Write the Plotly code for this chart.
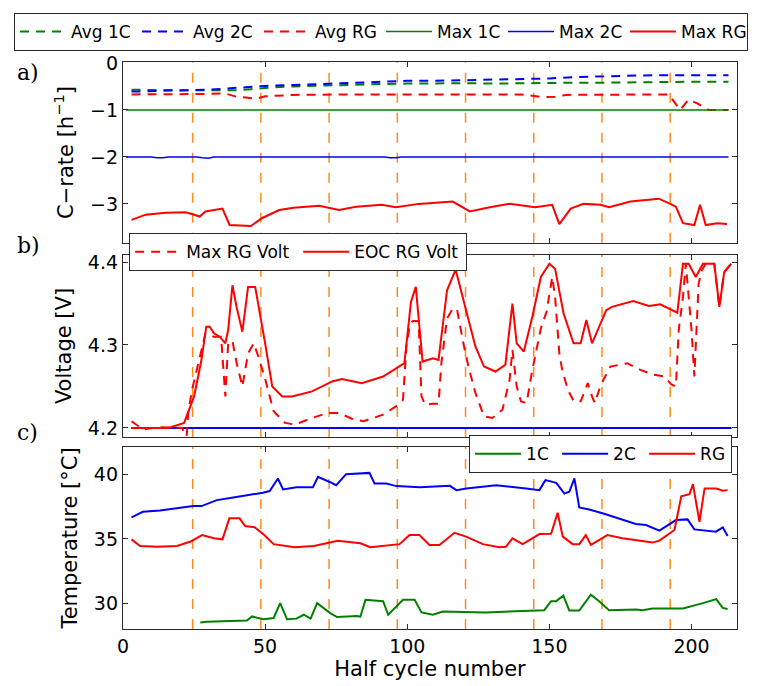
import plotly.graph_objects as go
from plotly.subplots import make_subplots

# ---- half-cycle segment boundaries (orange dashed markers) ----
segment_bounds = [24.5, 48.5, 72.5, 96.5, 120.5, 144.5, 168.5, 192.5]

# ---- a) C-rate ----
avg_1c_x = [3, 10, 20, 30, 40, 45, 50, 55, 60, 70, 80, 90, 100, 110, 120, 130, 140, 150, 160, 170, 180, 190, 200, 210, 213]
avg_1c_y = [-0.57, -0.58, -0.58, -0.58, -0.58, -0.56, -0.53, -0.51, -0.5, -0.48, -0.46, -0.45, -0.44, -0.43, -0.43, -0.44, -0.43, -0.43, -0.42, -0.42, -0.41, -0.41, -0.4, -0.4, -0.4]

avg_2c_x = [3, 10, 20, 30, 40, 50, 60, 70, 80, 90, 100, 110, 120, 130, 140, 150, 160, 170, 180, 190, 200, 210, 213]
avg_2c_y = [-0.61, -0.6, -0.6, -0.57, -0.53, -0.49, -0.47, -0.45, -0.42, -0.4, -0.38, -0.38, -0.37, -0.36, -0.35, -0.33, -0.3, -0.28, -0.27, -0.26, -0.26, -0.26, -0.26]

avg_rg_x = [3, 15, 30, 36, 40, 44, 47, 50, 60, 80, 100, 120, 140, 148, 152, 156, 170, 185, 192, 196, 199, 202, 206, 210, 213]
avg_rg_y = [-0.67, -0.67, -0.66, -0.65, -0.72, -0.74, -0.76, -0.71, -0.68, -0.67, -0.67, -0.67, -0.67, -0.73, -0.72, -0.68, -0.67, -0.66, -0.67, -1.0, -0.78, -0.86, -1.0, -1.0, -1.0]

max_1c_x = [1, 50, 100, 150, 200, 213]
max_1c_y = [-1.0, -1.0, -1.0, -1.0, -1.0, -1.0]

max_2c_x = [1, 10, 12, 14, 16, 26, 28, 30, 32, 92, 94, 96, 98, 213]
max_2c_y = [-2.0, -2.0, -2.02, -2.02, -2.0, -2.0, -2.02, -2.03, -2.0, -2.0, -2.02, -2.02, -2.0, -2.0]

max_rg_x = [3, 8, 15, 22, 24.5, 27, 29, 35, 37.5, 45, 49, 55, 60, 69, 76, 82, 91, 96, 104, 116, 122, 129, 136, 145,
            151, 153.5, 157.5, 162, 168, 171, 178.5, 188.5, 192.5, 194.5, 197, 201, 203, 205, 209, 212.5]
max_rg_y = [-3.34, -3.23, -3.19, -3.18, -3.22, -3.27, -3.16, -3.1, -3.45, -3.47, -3.3, -3.13, -3.08, -3.04, -3.13, -3.06,
            -3.02, -3.07, -3.0, -2.95, -3.16, -3.07, -3.0, -3.07, -3.02, -3.43, -3.1, -3.0, -3.02, -3.07, -2.95, -2.89,
            -3.0, -3.06, -3.41, -3.45, -3.02, -3.45, -3.41, -3.43]

# ---- b) Voltage ----
eoc_rg_x = [3, 10, 16, 21.5, 25, 27.5, 29.3, 30.5, 32, 34, 36, 37, 38.5, 40, 42, 44, 46.5, 50, 52.5, 56, 59.5, 66.5,
            73.6, 77, 84, 91.5, 96.2, 99, 101.3, 103, 105.4, 109, 111, 114, 117, 120.5, 124, 127, 131, 134.5, 137,
            138.5, 141, 144, 147, 150, 152, 155, 158.5, 161, 163, 165, 170, 172, 179.5, 185, 189, 195, 197, 199,
            201.5, 204, 208, 209.8, 211.5, 214]
eoc_rg_y = [4.2, 4.2, 4.2, 4.206, 4.238, 4.28, 4.322, 4.322, 4.314, 4.31, 4.302, 4.318, 4.372, 4.345, 4.316, 4.37,
            4.37, 4.302, 4.25, 4.238, 4.238, 4.244, 4.256, 4.259, 4.254, 4.262, 4.272, 4.278, 4.352, 4.37, 4.28,
            4.284, 4.282, 4.366, 4.391, 4.346, 4.298, 4.274, 4.268, 4.276, 4.35, 4.302, 4.292, 4.334, 4.382, 4.398,
            4.392, 4.338, 4.302, 4.302, 4.33, 4.302, 4.342, 4.346, 4.353, 4.347, 4.349, 4.339, 4.398, 4.398, 4.382,
            4.398, 4.398, 4.346, 4.388, 4.398]

max_rg_volt_x = [3, 7, 12, 18, 21, 22, 23, 24.3, 27.5, 29, 32, 34.5, 36, 37, 38.5, 40, 42, 44, 46, 47.5, 50, 53, 57,
                 60.5, 66.5, 72, 76, 80.5, 84.6, 91.5, 96, 98.5, 99.7, 101, 102, 104, 105, 106.3, 109, 111, 112, 114,
                 116, 117.5, 119.5, 121.5, 124, 127, 130, 133.5, 136, 137, 138.5, 140, 142, 144, 147, 149, 151, 152,
                 153.5, 154.5, 156.5, 158.6, 161, 163.5, 165, 166, 167.5, 169, 171.5, 177.4, 182, 186.8, 190.5, 193,
                 194.5, 195.5, 197, 198, 200, 201, 202.5, 203.6, 205, 208, 209.8, 211.5, 214]
max_rg_volt_y = [4.208, 4.198, 4.201, 4.2, 4.2, 4.17, 4.22, 4.246, 4.294, 4.314, 4.31, 4.31, 4.238, 4.302, 4.305,
                 4.278, 4.25, 4.29, 4.302, 4.287, 4.259, 4.22, 4.206, 4.204, 4.212, 4.218, 4.218, 4.211, 4.208, 4.216,
                 4.226, 4.234, 4.298, 4.326, 4.329, 4.329, 4.238, 4.228, 4.229, 4.229, 4.278, 4.332, 4.344, 4.343,
                 4.306, 4.274, 4.242, 4.214, 4.212, 4.222, 4.258, 4.294, 4.25, 4.232, 4.23, 4.27, 4.32, 4.34, 4.382,
                 4.358, 4.29, 4.27, 4.246, 4.232, 4.232, 4.254, 4.238, 4.23, 4.246, 4.258, 4.274, 4.278, 4.27, 4.264,
                 4.262, 4.252, 4.25, 4.318, 4.358, 4.398, 4.318, 4.262, 4.374, 4.39, 4.398, 4.398, 4.346, 4.388, 4.398]

cv_1c_x = [3, 60, 120, 180, 214]
cv_1c_y = [4.2, 4.2, 4.2, 4.2, 4.2]
cv_2c_x = [3, 60, 120, 180, 214]
cv_2c_y = [4.2, 4.2, 4.2, 4.2, 4.2]

# ---- c) Temperature ----
temp_1c_x = [27.2, 29.5, 43.6, 45.4, 49.5, 53, 55.3, 57.7, 61, 63.6, 66, 68.3, 72.9, 75.3, 82.3, 83.5, 85.3, 89.3,
             91.5, 93.3, 96.2, 98.5, 102.6, 105, 109, 112.5, 127.7, 139.4, 144.6, 148.2, 150.6, 152.4, 154.9, 157,
             160.5, 164.6, 167.5, 171, 180.5, 182.8, 186.3, 197, 204, 208.7, 211, 212.7]
temp_1c_y = [28.56, 28.6, 28.7, 29.02, 28.8, 28.9, 30.05, 28.8, 28.85, 29.15, 28.85, 30.05, 29.28, 28.97, 29.05,
             29.0, 30.3, 30.2, 30.2, 29.15, 29.8, 30.3, 30.3, 29.33, 29.15, 29.4, 29.33, 29.44, 29.48, 29.5, 30.2,
             30.2, 30.62, 29.48, 29.48, 30.7, 30.2, 29.5, 29.56, 29.5, 29.64, 29.64, 30.05, 30.36, 29.68, 29.6]

temp_2c_x = [3, 7, 13, 24.7, 27.6, 33, 38.8, 44.6, 49.2, 51.6, 54.5, 56.3, 61, 66.8, 68.6, 72.7, 75, 78.5, 86.7,
             88.5, 92.6, 96.2, 104.4, 115, 117.3, 120.8, 131.3, 141.8, 146.5, 148.6, 152.4, 155.3, 157, 158.8, 160.5,
             164, 168.7, 180.4, 184, 188.7, 194.5, 198.6, 201, 208.6, 211, 212.7]
temp_2c_y = [36.67, 37.1, 37.2, 37.54, 37.54, 38.0, 38.2, 38.38, 38.57, 38.7, 39.67, 38.82, 39.0, 39.0, 39.8, 39.4,
             39.15, 40.0, 40.1, 39.28, 39.28, 39.08, 39.0, 39.1, 38.77, 38.9, 39.15, 38.9, 38.77, 39.54, 39.33,
             38.51, 38.64, 39.67, 37.44, 37.28, 36.98, 36.15, 36.08, 35.64, 36.46, 36.51, 35.74, 35.56, 35.9, 35.23]

temp_rg_x = [3, 6, 12, 19, 23.8, 27.8, 32, 35, 37.4, 41, 43, 46.3, 49.7, 53, 60.3, 67.2, 75.5, 83.5, 87, 97.3,
             100.8, 104.3, 107.8, 111.3, 116.6, 120.7, 126.6, 132.4, 134.7, 137, 140.6, 146.5, 150.6, 152.9, 154.7,
             158.2, 160.5, 162.8, 164.6, 170.4, 175.7, 186.3, 188.7, 194, 196.4, 199.3, 200.5, 202.8, 204.6, 208.7,
             211, 212.7]
temp_rg_y = [34.97, 34.46, 34.4, 34.46, 34.8, 35.3, 35.05, 34.97, 36.59, 36.59, 36.0, 35.9, 35.3, 34.6, 34.36, 34.46,
             34.87, 34.67, 34.36, 34.6, 35.3, 35.3, 34.54, 34.54, 35.48, 35.18, 34.6, 34.36, 34.4, 35.05, 34.6, 35.38,
             35.4, 37.03, 35.18, 34.6, 34.6, 35.3, 34.54, 35.3, 35.05, 34.72, 34.87, 35.69, 38.3, 38.46, 39.23,
             36.33, 38.9, 38.9, 38.72, 38.77]

GREEN = "#008000"
BLUE = "#0000ff"
RED = "#ff0000"
ORANGE = "#ff8c1a"
AXIS = "#2b2b2b"
SANS = "DejaVu Sans"
DASH = "9px,7px"

fig = make_subplots(rows=3, cols=1, shared_xaxes=True, vertical_spacing=0.02)

# a) C-rate
fig.add_trace(go.Scatter(x=avg_1c_x, y=avg_1c_y, name="Avg 1C", mode="lines",
                         line=dict(color=GREEN, width=2, dash=DASH), legend="legend"), row=1, col=1)
fig.add_trace(go.Scatter(x=avg_2c_x, y=avg_2c_y, name="Avg 2C", mode="lines",
                         line=dict(color=BLUE, width=2, dash=DASH), legend="legend"), row=1, col=1)
fig.add_trace(go.Scatter(x=avg_rg_x, y=avg_rg_y, name="Avg RG", mode="lines",
                         line=dict(color=RED, width=2, dash=DASH), legend="legend"), row=1, col=1)
fig.add_trace(go.Scatter(x=max_1c_x, y=max_1c_y, name="Max 1C", mode="lines",
                         line=dict(color=GREEN, width=1.5), legend="legend"), row=1, col=1)
fig.add_trace(go.Scatter(x=max_2c_x, y=max_2c_y, name="Max 2C", mode="lines",
                         line=dict(color=BLUE, width=1.5), legend="legend"), row=1, col=1)
fig.add_trace(go.Scatter(x=max_rg_x, y=max_rg_y, name="Max RG", mode="lines",
                         line=dict(color=RED, width=2), legend="legend"), row=1, col=1)

# b) Voltage
fig.add_trace(go.Scatter(x=cv_1c_x, y=cv_1c_y, mode="lines", showlegend=False,
                         line=dict(color=GREEN, width=2, dash=DASH)), row=2, col=1)
fig.add_trace(go.Scatter(x=cv_2c_x, y=cv_2c_y, mode="lines", showlegend=False,
                         line=dict(color=BLUE, width=2)), row=2, col=1)
fig.add_trace(go.Scatter(x=max_rg_volt_x, y=max_rg_volt_y, name="Max RG Volt", mode="lines",
                         line=dict(color=RED, width=2, dash=DASH), legend="legend2"), row=2, col=1)
fig.add_trace(go.Scatter(x=eoc_rg_x, y=eoc_rg_y, name="EOC RG Volt", mode="lines",
                         line=dict(color=RED, width=2), legend="legend2"), row=2, col=1)

# c) Temperature
fig.add_trace(go.Scatter(x=temp_1c_x, y=temp_1c_y, name="1C", mode="lines",
                         line=dict(color=GREEN, width=2), legend="legend3"), row=3, col=1)
fig.add_trace(go.Scatter(x=temp_2c_x, y=temp_2c_y, name="2C", mode="lines",
                         line=dict(color=BLUE, width=2), legend="legend3"), row=3, col=1)
fig.add_trace(go.Scatter(x=temp_rg_x, y=temp_rg_y, name="RG", mode="lines",
                         line=dict(color=RED, width=2), legend="legend3"), row=3, col=1)

# segment markers in every panel
for b in segment_bounds:
    fig.add_vline(x=b, row="all", col=1, layer="below",
                  line=dict(color=ORANGE, width=1.5, dash="10px,10px"))

axis_common = dict(showline=True, mirror="allticks", linecolor=AXIS, linewidth=1.3,
                   ticks="inside", ticklen=5, tickcolor=AXIS, showgrid=False, zeroline=False,
                   tickfont=dict(family=SANS, size=19, color="black"))

for i in (1, 2, 3):
    fig.update_xaxes(range=[0, 216], tickvals=[0, 50, 100, 150, 200], row=i, col=1, **axis_common)
fig.update_xaxes(title=dict(text="Half cycle number", font=dict(family=SANS, size=21, color="black"),
                            standoff=4), row=3, col=1)

fig.update_yaxes(range=[-3.83, 0.02], tickvals=[0, -1, -2, -3], domain=[0.681, 1.0], row=1, col=1,
                 title=dict(text="C−rate [h<sup>−1</sup>]", font=dict(family=SANS, size=21, color="black"),
                            standoff=10), **axis_common)
fig.update_yaxes(range=[4.189, 4.4085], tickvals=[4.2, 4.3, 4.4], tickformat=".1f", domain=[0.3386, 0.6596],
                 row=2, col=1,
                 title=dict(text="Voltage [V]", font=dict(family=SANS, size=21, color="black"), standoff=10),
                 **axis_common)
fig.update_yaxes(range=[28.05, 42.1], tickvals=[30, 35, 40], domain=[0.0, 0.321], row=3, col=1,
                 title=dict(text="Temperature [°C]", font=dict(family=SANS, size=21, color="black"),
                            standoff=10), **axis_common)

legend_common = dict(orientation="h", bgcolor="white", bordercolor=AXIS, borderwidth=1,
                     font=dict(family=SANS, size=17, color="black"), entrywidthmode="pixels",
                     itemwidth=46, itemclick=False, itemdoubleclick=False)

fig.update_layout(
    width=757, height=686,
    margin=dict(l=123, r=20, t=62, b=57, autoexpand=False),
    paper_bgcolor="white", plot_bgcolor="white",
    legend=dict(x=-0.1775, xanchor="left", y=1.0864, yanchor="top", entrywidth=61, **legend_common),
    legend2=dict(x=0.01, xanchor="left", y=0.698, yanchor="top", entrywidth=107, **legend_common),
    legend3=dict(x=0.992, xanchor="right", y=0.342, yanchor="top", entrywidth=26, **legend_common),
    annotations=[
        dict(text="a)", xref="paper", yref="paper", x=-0.176, y=0.982, xanchor="left", yanchor="middle",
             showarrow=False, font=dict(family="DejaVu Serif", size=22, color="black")),
        dict(text="b)", xref="paper", yref="paper", x=-0.176, y=0.677, xanchor="left", yanchor="middle",
             showarrow=False, font=dict(family="DejaVu Serif", size=22, color="black")),
        dict(text="c)", xref="paper", yref="paper", x=-0.176, y=0.347, xanchor="left", yanchor="middle",
             showarrow=False, font=dict(family="DejaVu Serif", size=22, color="black")),
    ],
)

fig.write_html("out.html", config={"displayModeBar": False})
